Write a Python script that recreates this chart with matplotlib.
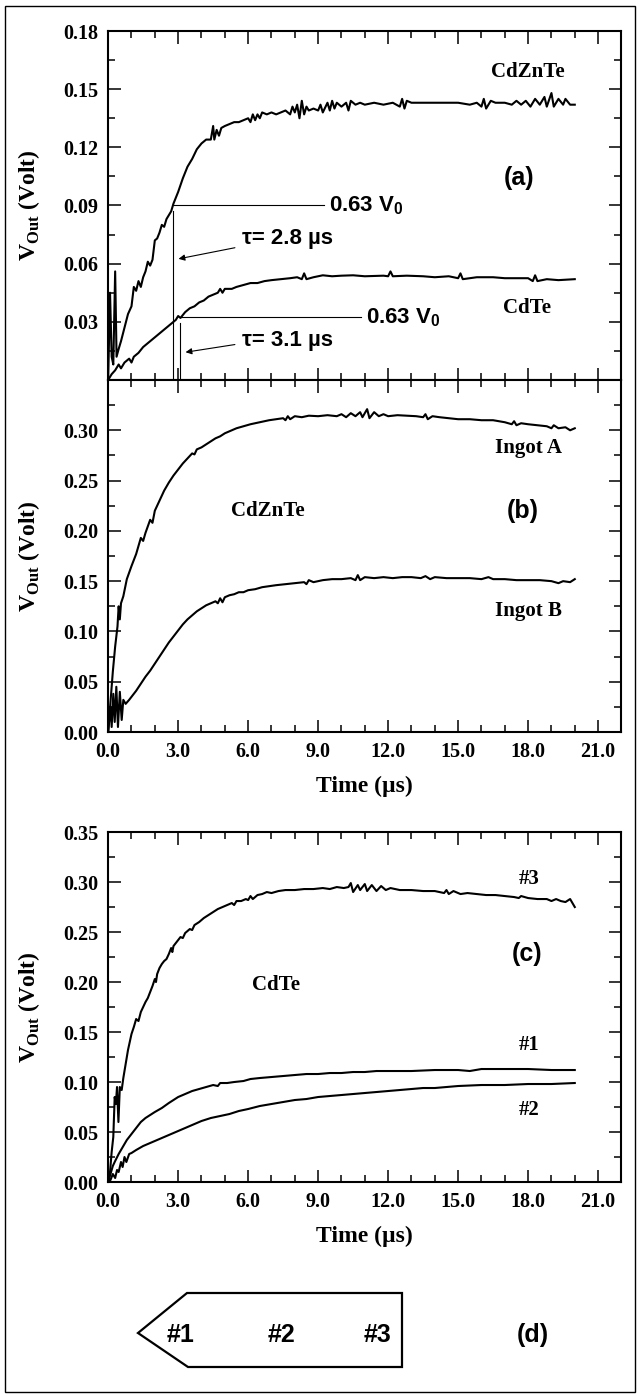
import matplotlib
matplotlib.use('Agg')
from matplotlib import pyplot as plt
from matplotlib.ticker import MultipleLocator, FormatStrFormatter
from matplotlib.patches import Polygon, Rectangle

# ---- panel (a): CdZnTe and CdTe transients
t_czt = [0.0, 0.08, 0.15, 0.22, 0.3, 0.36, 0.45, 0.55, 0.7, 0.85, 1.0, 1.1, 1.2, 1.3, 1.4, 1.5, 1.6, 1.7, 1.8, 1.9,
         2.0, 2.1, 2.2, 2.3, 2.4, 2.5, 2.6, 2.7, 2.8, 3.0, 3.2, 3.4, 3.6, 3.8, 4.0, 4.2, 4.4, 4.5, 4.55, 4.65,
         4.75, 4.85, 5.0, 5.2, 5.4, 5.6, 5.8, 6.0, 6.1, 6.2, 6.3, 6.4, 6.5, 6.6, 6.8, 7.0, 7.2, 7.4, 7.6, 7.8,
         7.9, 8.0, 8.1, 8.2, 8.3, 8.4, 8.5, 8.6, 8.8, 9.0, 9.1, 9.2, 9.4, 9.5, 9.6, 9.7, 9.8, 10.0, 10.2, 10.3,
         10.4, 10.6, 10.8, 11.0, 11.4, 11.8, 12.2, 12.5, 12.6, 12.7, 12.8, 13.0, 13.4, 13.8, 14.2, 14.6, 15.0,
         15.5, 15.8, 16.0, 16.1, 16.2, 16.4, 16.6, 17.0, 17.3, 17.5, 17.7, 17.9, 18.1, 18.3, 18.5, 18.7, 18.8,
         19.0, 19.1, 19.3, 19.5, 19.6, 19.8, 20.0]
v_czt = [0.0, 0.045, 0.012, 0.008, 0.056, 0.012, 0.016, 0.020, 0.027, 0.034, 0.038, 0.048, 0.046, 0.051, 0.048,
         0.053, 0.056, 0.061, 0.059, 0.062, 0.072, 0.073, 0.076, 0.080, 0.079, 0.083, 0.085, 0.087, 0.091, 0.097,
         0.104, 0.110, 0.114, 0.119, 0.122, 0.124, 0.124, 0.131, 0.124, 0.129, 0.126, 0.130, 0.131, 0.132, 0.133,
         0.133, 0.134, 0.135, 0.133, 0.137, 0.134, 0.137, 0.135, 0.138, 0.137, 0.138, 0.137, 0.138, 0.139, 0.137,
         0.141, 0.138, 0.142, 0.135, 0.144, 0.137, 0.141, 0.139, 0.140, 0.139, 0.142, 0.138, 0.143, 0.139, 0.144,
         0.140, 0.143, 0.141, 0.143, 0.139, 0.144, 0.142, 0.143, 0.142, 0.143, 0.142, 0.143, 0.141, 0.145, 0.140,
         0.144, 0.143, 0.143, 0.143, 0.143, 0.143, 0.143, 0.142, 0.143, 0.141, 0.145, 0.140, 0.144, 0.143, 0.143,
         0.142, 0.144, 0.142, 0.144, 0.141, 0.145, 0.142, 0.146, 0.141, 0.148, 0.141, 0.145, 0.142, 0.145, 0.142,
         0.142]

t_cdte = [0.0, 0.15, 0.3, 0.45, 0.55, 0.7, 0.9, 1.0, 1.1, 1.3, 1.5, 1.7, 1.9, 2.1, 2.3, 2.5, 2.7, 2.9, 3.0, 3.1,
          3.3, 3.5, 3.7, 3.9, 4.1, 4.3, 4.5, 4.7, 4.8, 4.9, 5.0, 5.3, 5.5, 5.8, 6.1, 6.4, 6.7, 7.0, 7.4, 7.8,
          8.1, 8.3, 8.4, 8.5, 8.8, 9.2, 9.6, 10.0, 10.5, 11.0, 11.8, 12.0, 12.1, 12.2, 12.8, 13.5, 14.0, 14.6,
          15.0, 15.1, 15.2, 15.8, 16.5, 17.0, 17.5, 18.0, 18.2, 18.3, 18.4, 18.8, 19.3, 20.0]
v_cdte = [0.0, 0.003, 0.005, 0.008, 0.006, 0.009, 0.011, 0.009, 0.012, 0.014, 0.017, 0.019, 0.021, 0.023, 0.025,
          0.027, 0.029, 0.031, 0.033, 0.032, 0.035, 0.037, 0.038, 0.040, 0.041, 0.043, 0.044, 0.045, 0.047, 0.045,
          0.047, 0.047, 0.048, 0.049, 0.050, 0.050, 0.051, 0.0515, 0.052, 0.0525, 0.053, 0.052, 0.055, 0.052,
          0.053, 0.054, 0.0535, 0.0538, 0.054, 0.0535, 0.0538, 0.0535, 0.056, 0.0535, 0.0538, 0.0535, 0.053,
          0.0535, 0.0525, 0.055, 0.052, 0.053, 0.053, 0.0525, 0.0525, 0.0525, 0.051, 0.054, 0.051, 0.052, 0.0515,
          0.052]

tau_czt, v63_czt = 2.8, 0.09
tau_cdte, v63_cdte = 3.1, 0.0323

# ---- panel (b): CdZnTe ingots
t_ingA = [0, 0.1, 0.2, 0.3, 0.4, 0.45, 0.5, 0.55, 0.65, 0.8, 1.0, 1.2, 1.4, 1.5, 1.6, 1.8, 1.9, 2.0, 2.2, 2.4,
          2.6, 2.8, 3.0, 3.2, 3.4, 3.6, 3.7, 3.8, 4.0, 4.2, 4.4, 4.6, 4.8, 5.0, 5.2, 5.5, 5.8, 6.1, 6.5, 6.9,
          7.2, 7.5, 7.6, 7.7, 7.8, 8.0, 8.3, 8.6, 9.0, 9.4, 9.8, 10.0, 10.2, 10.4, 10.6, 10.8, 10.9, 11.1, 11.2,
          11.4, 11.6, 11.8, 12.0, 12.4, 12.8, 13.2, 13.5, 13.6, 13.7, 13.9, 14.2, 14.6, 15.0, 15.5, 16.0, 16.5,
          17.0, 17.3, 17.4, 17.5, 17.7, 18.0, 18.4, 18.8, 19.0, 19.1, 19.3, 19.6, 19.8, 20.0]
v_ingA = [0, 0.03, 0.06, 0.085, 0.105, 0.125, 0.112, 0.128, 0.135, 0.152, 0.165, 0.177, 0.193, 0.190, 0.198,
          0.211, 0.208, 0.220, 0.230, 0.240, 0.248, 0.255, 0.261, 0.267, 0.272, 0.277, 0.276, 0.281, 0.283, 0.286,
          0.289, 0.292, 0.294, 0.297, 0.299, 0.302, 0.304, 0.306, 0.308, 0.310, 0.311, 0.312, 0.310, 0.314, 0.311,
          0.314, 0.313, 0.3145, 0.314, 0.315, 0.314, 0.316, 0.313, 0.317, 0.314, 0.318, 0.313, 0.321, 0.312, 0.318,
          0.314, 0.316, 0.314, 0.315, 0.3145, 0.314, 0.313, 0.316, 0.311, 0.314, 0.313, 0.312, 0.311, 0.311, 0.310,
          0.310, 0.308, 0.306, 0.309, 0.305, 0.307, 0.306, 0.305, 0.304, 0.302, 0.305, 0.302, 0.303, 0.300, 0.302]

t_ingB = [0, 0.1, 0.15, 0.22, 0.28, 0.35, 0.42, 0.5, 0.58, 0.65, 0.75, 0.9, 1.0, 1.2, 1.4, 1.6, 1.8, 2.0, 2.2,
          2.4, 2.6, 2.8, 3.0, 3.2, 3.4, 3.6, 3.8, 4.0, 4.2, 4.4, 4.6, 4.7, 4.8, 4.9, 5.0, 5.2, 5.4, 5.6, 5.8,
          6.0, 6.3, 6.6, 6.9, 7.2, 7.6, 8.0, 8.4, 8.5, 8.6, 8.8, 9.2, 9.6, 10.0, 10.4, 10.6, 10.7, 10.8, 11.0,
          11.4, 11.8, 12.2, 12.6, 13.0, 13.4, 13.6, 13.8, 14.0, 14.5, 15.0, 15.5, 16.0, 16.3, 16.5, 17.0, 17.5,
          18.0, 18.5, 19.0, 19.3, 19.5, 19.8, 20.0]
v_ingB = [0, 0.025, 0.005, 0.038, 0.01, 0.045, 0.005, 0.04, 0.012, 0.032, 0.028, 0.032, 0.035, 0.041, 0.048,
          0.055, 0.061, 0.068, 0.075, 0.082, 0.089, 0.095, 0.101, 0.107, 0.112, 0.116, 0.120, 0.123, 0.126, 0.128,
          0.130, 0.128, 0.133, 0.129, 0.134, 0.136, 0.137, 0.139, 0.139, 0.141, 0.142, 0.144, 0.145, 0.146, 0.147,
          0.148, 0.149, 0.147, 0.151, 0.149, 0.151, 0.152, 0.152, 0.153, 0.151, 0.156, 0.151, 0.154, 0.153, 0.154,
          0.153, 0.154, 0.154, 0.153, 0.155, 0.152, 0.154, 0.153, 0.153, 0.153, 0.152, 0.154, 0.152, 0.152, 0.151,
          0.151, 0.151, 0.150, 0.148, 0.150, 0.149, 0.152]

# ---- panel (c): CdTe samples #1, #2, #3
t_s3 = [0, 0.08, 0.15, 0.22, 0.28, 0.33, 0.38, 0.44, 0.5, 0.58, 0.65, 0.75, 0.85, 1.0, 1.1, 1.2, 1.3, 1.4, 1.5,
        1.6, 1.7, 1.8, 1.9, 2.0, 2.05, 2.1, 2.2, 2.3, 2.4, 2.5, 2.6, 2.7, 2.75, 2.8, 2.9, 3.0, 3.1, 3.2, 3.3,
        3.5, 3.6, 3.7, 3.9, 4.1, 4.3, 4.5, 4.7, 4.9, 5.1, 5.3, 5.4, 5.5, 5.7, 5.9, 6.0, 6.1, 6.2, 6.4, 6.6,
        6.8, 7.0, 7.3, 7.6, 8.0, 8.4, 8.8, 9.2, 9.5, 9.8, 10.1, 10.3, 10.4, 10.5, 10.7, 10.8, 11.0, 11.1, 11.3,
        11.5, 11.7, 11.9, 12.1, 12.5, 13.0, 13.5, 14.0, 14.4, 14.5, 14.6, 14.8, 15.1, 15.4, 15.8, 16.2, 16.6,
        17.0, 17.4, 17.6, 17.7, 18.0, 18.4, 18.8, 19.0, 19.2, 19.4, 19.6, 19.8, 20.0]
v_s3 = [0, 0.01, 0.03, 0.045, 0.085, 0.078, 0.095, 0.06, 0.095, 0.092, 0.104, 0.118, 0.132, 0.148, 0.155, 0.163,
        0.161, 0.170, 0.175, 0.180, 0.184, 0.190, 0.196, 0.203, 0.200, 0.208, 0.214, 0.218, 0.221, 0.223, 0.228,
        0.234, 0.230, 0.236, 0.239, 0.242, 0.245, 0.244, 0.249, 0.253, 0.252, 0.257, 0.260, 0.264, 0.267, 0.270,
        0.273, 0.275, 0.277, 0.279, 0.277, 0.281, 0.281, 0.283, 0.282, 0.286, 0.283, 0.287, 0.288, 0.290, 0.289,
        0.291, 0.292, 0.292, 0.293, 0.293, 0.294, 0.293, 0.295, 0.294, 0.295, 0.299, 0.290, 0.297, 0.292, 0.298,
        0.291, 0.297, 0.291, 0.296, 0.292, 0.294, 0.292, 0.292, 0.291, 0.291, 0.289, 0.292, 0.288, 0.291, 0.288,
        0.289, 0.288, 0.287, 0.287, 0.286, 0.285, 0.284, 0.286, 0.284, 0.283, 0.283, 0.281, 0.283, 0.281, 0.280,
        0.283, 0.275]

t_s1 = [0, 0.1, 0.2, 0.3, 0.45, 0.6, 0.8, 1.0, 1.2, 1.4, 1.6, 1.8, 2.0, 2.3, 2.6, 3.0, 3.3, 3.6, 3.9, 4.2, 4.5,
        4.7, 4.8, 5.1, 5.4, 5.8, 6.1, 6.5, 7.0, 7.5, 8.0, 8.5, 9.0, 9.5, 10.0, 10.5, 11.0, 11.5, 12.0, 13.0,
        14.0, 15.0, 15.5, 16.0, 17.0, 18.0, 19.0, 20.0]
v_s1 = [0, 0.008, 0.016, 0.021, 0.028, 0.034, 0.042, 0.048, 0.054, 0.060, 0.064, 0.067, 0.070, 0.074, 0.079,
        0.085, 0.088, 0.091, 0.093, 0.095, 0.097, 0.096, 0.099, 0.099, 0.100, 0.101, 0.103, 0.104, 0.105, 0.106,
        0.107, 0.108, 0.108, 0.109, 0.109, 0.110, 0.110, 0.111, 0.111, 0.111, 0.112, 0.112, 0.111, 0.113, 0.113,
        0.113, 0.112, 0.112]

t_s2 = [0, 0.1, 0.2, 0.3, 0.38, 0.45, 0.55, 0.62, 0.7, 0.78, 0.9, 1.0, 1.2, 1.5, 1.8, 2.1, 2.4, 2.8, 3.2, 3.6,
        4.0, 4.4, 4.8, 5.2, 5.6, 6.0, 6.5, 7.0, 7.5, 8.0, 8.5, 9.0, 9.5, 10.0, 11.0, 12.0, 13.0, 13.5, 14.0,
        15.0, 16.0, 17.0, 18.0, 19.0, 20.0]
v_s2 = [0, 0.002, 0.008, 0.004, 0.012, 0.010, 0.020, 0.015, 0.025, 0.020, 0.028, 0.029, 0.032, 0.036, 0.039,
        0.042, 0.045, 0.049, 0.053, 0.057, 0.061, 0.064, 0.066, 0.068, 0.071, 0.073, 0.076, 0.078, 0.080, 0.082,
        0.083, 0.085, 0.086, 0.087, 0.089, 0.091, 0.093, 0.094, 0.094, 0.096, 0.097, 0.097, 0.098, 0.098, 0.099]

x_ticks = [0.0, 3.0, 6.0, 9.0, 12.0, 15.0, 18.0, 21.0]

plt.rcParams['mathtext.fontset'] = 'custom'
plt.rcParams['mathtext.rm'] = 'Liberation Serif:bold'
plt.rcParams['mathtext.bf'] = 'Liberation Serif:bold'
plt.rcParams['mathtext.sf'] = 'Liberation Sans:bold'

SERIF = dict(family='Liberation Serif', weight='bold')
SANS = dict(family=['Liberation Sans Narrow', 'Liberation Sans'], weight='bold')
LW = 1.5


def style_axes(ax, ymax, ymajor, yminor, hide=()):
    ax.set_xlim(0, 22)
    ax.set_ylim(0, ymax)
    ax.xaxis.set_major_locator(MultipleLocator(3))
    ax.xaxis.set_minor_locator(MultipleLocator(1))
    ax.yaxis.set_major_locator(MultipleLocator(ymajor))
    ax.yaxis.set_minor_locator(MultipleLocator(yminor))
    ax.xaxis.set_major_formatter(FormatStrFormatter('%.1f'))
    fmt = lambda v, pos: '' if any(abs(v - h) < 1e-6 for h in hide) else '%.2f' % v
    ax.yaxis.set_major_formatter(fmt)
    ax.tick_params(which='both', direction='in', top=True, right=True, width=1.1)
    ax.tick_params(which='major', length=9, pad=7)
    ax.tick_params(which='minor', length=5)
    for s in ax.spines.values():
        s.set_linewidth(1.5)
    for lab in ax.get_xticklabels() + ax.get_yticklabels():
        lab.set_fontproperties(dict(SERIF, size=14.5))
    ax.set_ylabel(r'V$_{\mathbf{Out}}$ (Volt)', fontsize=17, **SERIF)
    ax.yaxis.set_label_coords(-0.128, 0.5)


fig = plt.figure(figsize=(6.4, 13.97), dpi=100)

# frame and panel (d) drawn in pixel space
bg = fig.add_axes([0, 0, 1, 1])
bg.set_xlim(0, 640)
bg.set_ylim(1397, 0)
bg.axis('off')
bg.add_patch(Rectangle((5, 6), 630, 1386, fill=False, lw=1.0, color='black'))
bg.add_patch(Polygon([(138, 1333), (187, 1293), (402, 1293), (402, 1367), (188, 1367)],
                     closed=True, fill=False, lw=1.6, color='black'))
for lab, xp in zip(['#1', '#2', '#3'], [181, 281, 377]):
    bg.text(xp, 1335, lab, ha='center', va='center', fontsize=18, **SANS)
bg.text(533, 1335, '(d)', ha='center', va='center', fontsize=18, **SANS)

# (a)
ax_a = fig.add_axes([0.169, 0.728, 0.802, 0.2498])
ax_a.plot(t_czt, v_czt, color='black', lw=LW)
ax_a.plot(t_cdte, v_cdte, color='black', lw=LW)
style_axes(ax_a, 0.18, 0.03, 0.015, hide=(0.0,))
ax_a.tick_params(labelbottom=False)
for tau, v63, xend, tlab, tx, ty, ax0, ay0, ax1, ay1 in [
        (tau_czt, v63_czt, 9.25, r'$\tau$= 2.8 $\mu$s', 5.75, 0.073, 5.55, 0.0685, 2.9, 0.0622),
        (tau_cdte, v63_cdte, 10.85, r'$\tau$= 3.1 $\mu$s', 5.75, 0.0205, 5.55, 0.0185, 3.2, 0.0141)]:
    ax_a.plot([tau, xend], [v63, v63], color='black', lw=0.8)
    ax_a.plot([tau, tau], [0, v63 - 0.003], color='black', lw=0.8)
    ax_a.text(xend + 0.2, v63, r'0.63 V$_{\mathsf{0}}$', ha='left', va='center', fontsize=16, **SANS)
    ax_a.text(tx, ty, tlab.replace(r'$\tau$', '\u03c4').replace(r'$\mu$', '\u00b5'),
              ha='left', va='center', fontsize=16, **SANS)
    ax_a.annotate('', xy=(ax1, ay1), xytext=(ax0, ay0),
                  arrowprops=dict(arrowstyle='-|>', color='black', lw=0.8, mutation_scale=9))
ax_a.text(18.0, 0.159, 'CdZnTe', ha='center', va='center', fontsize=15, **SERIF)
ax_a.text(17.6, 0.104, '(a)', ha='center', va='center', fontsize=18, **SANS)
ax_a.text(17.95, 0.037, 'CdTe', ha='center', va='center', fontsize=15, **SERIF)

# (b)
ax_b = fig.add_axes([0.169, 0.476, 0.802, 0.252])
ax_b.plot(t_ingA, v_ingA, color='black', lw=LW)
ax_b.plot(t_ingB, v_ingB, color='black', lw=LW)
style_axes(ax_b, 0.35, 0.05, 0.025, hide=(0.35,))
ax_b.set_xlabel('Time (\u00b5s)', fontsize=17, **SERIF)
ax_b.xaxis.set_label_coords(0.5, -0.125)
ax_b.text(18.0, 0.282, 'Ingot A', ha='center', va='center', fontsize=15, **SERIF)
ax_b.text(18.0, 0.120, 'Ingot B', ha='center', va='center', fontsize=15, **SERIF)
ax_b.text(6.85, 0.220, 'CdZnTe', ha='center', va='center', fontsize=15, **SERIF)
ax_b.text(17.75, 0.220, '(b)', ha='center', va='center', fontsize=18, **SANS)

# (c)
ax_c = fig.add_axes([0.169, 0.1539, 0.802, 0.2505])
ax_c.plot(t_s3, v_s3, color='black', lw=LW)
ax_c.plot(t_s1, v_s1, color='black', lw=LW)
ax_c.plot(t_s2, v_s2, color='black', lw=LW)
style_axes(ax_c, 0.35, 0.05, 0.025)
ax_c.set_xlabel('Time (\u00b5s)', fontsize=17, **SERIF)
ax_c.xaxis.set_label_coords(0.5, -0.125)
ax_c.text(18.06, 0.303, '#3', ha='center', va='center', fontsize=15, **SERIF)
ax_c.text(17.96, 0.228, '(c)', ha='center', va='center', fontsize=18, **SANS)
ax_c.text(7.2, 0.197, 'CdTe', ha='center', va='center', fontsize=15, **SERIF)
ax_c.text(18.06, 0.137, '#1', ha='center', va='center', fontsize=15, **SERIF)
ax_c.text(18.06, 0.072, '#2', ha='center', va='center', fontsize=15, **SERIF)

fig.savefig('out.png', dpi=100)
